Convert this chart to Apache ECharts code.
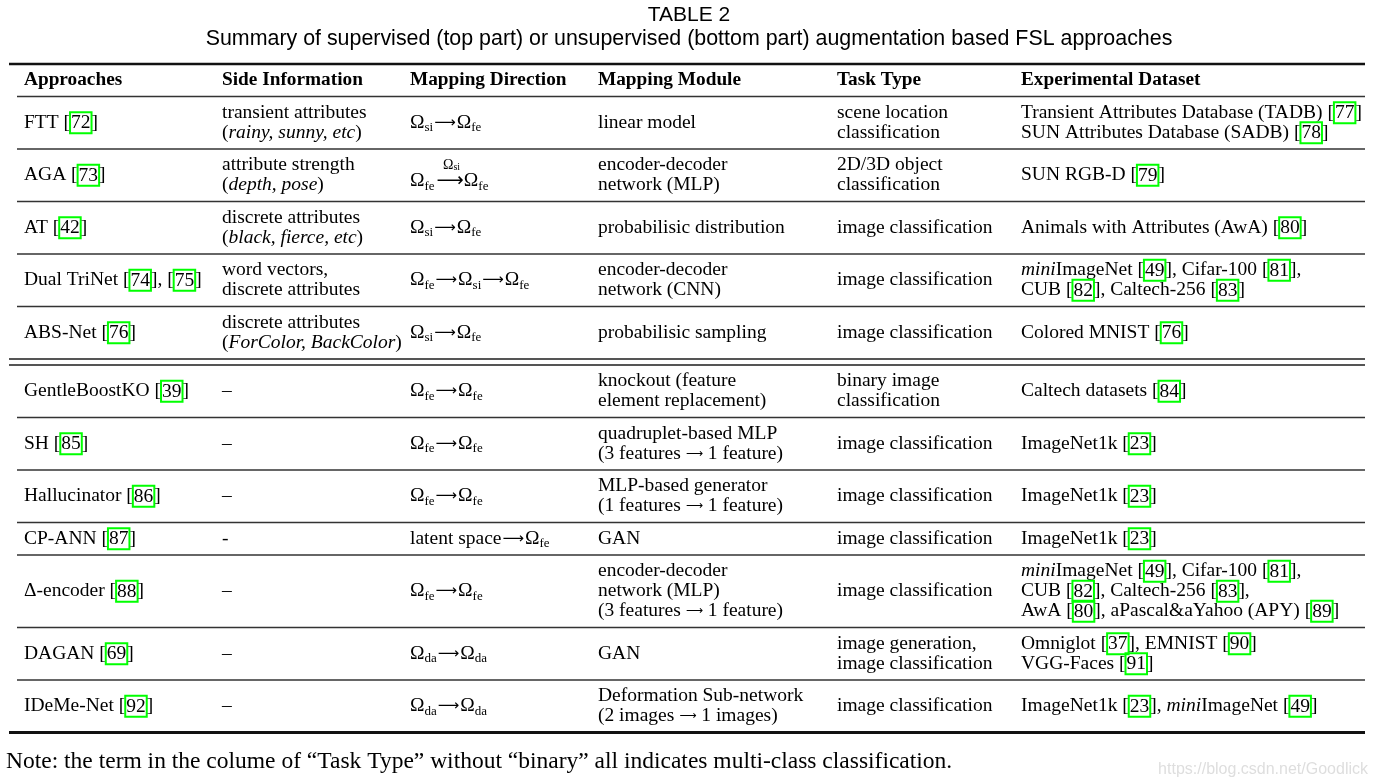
<!DOCTYPE html>
<html>
<head>
<meta charset="utf-8">
<title>TABLE 2</title>
<script src="https://cdn.jsdelivr.net/npm/echarts@6/dist/echarts.min.js"></script>
<style>
  html, body { margin: 0; padding: 0; background: #fff; }
  #chart { width: 1378px; height: 783px; }
</style>
</head>
<body>
<div id="chart"></div>
<script>
// ---- table content ----
// '\n' splits lines inside a cell; {c|..} = green citation box, {i|..} = italic,
// {s|..} = subscript, {a|..} / {b|..} = math arrows
const headers = ['Approaches', 'Side Information', 'Mapping Direction', 'Mapping Module', 'Task Type', 'Experimental Dataset'];

const approaches = [
  'FTT [{c|72}]',
  'AGA [{c|73}]',
  'AT [{c|42}]',
  'Dual TriNet [{c|74}], [{c|75}]',
  'ABS-Net [{c|76}]',
  'GentleBoostKO [{c|39}]',
  'SH [{c|85}]',
  'Hallucinator [{c|86}]',
  'CP-ANN [{c|87}]',
  'Δ-encoder [{c|88}]',
  'DAGAN [{c|69}]',
  'IDeMe-Net [{c|92}]'
];

const sideInfo = [
  'transient attributes\n({i|rainy, sunny, etc})',
  'attribute strength\n({i|depth, pose})',
  'discrete attributes\n({i|black, fierce, etc})',
  'word vectors,\ndiscrete attributes',
  'discrete attributes\n({i|ForColor, BackColor})',
  '–', '–', '–', '-', '–', '–', '–'
];

const mappingDirection = [
  'Ω{s|si}{a|⟶}Ω{s|fe}',
  '{sp| }{o|Ω}{os|si}\nΩ{s|fe}{al|⟶}Ω{s|fe}',
  'Ω{s|si}{a|⟶}Ω{s|fe}',
  'Ω{s|fe}{a|⟶}Ω{s|si}{a|⟶}Ω{s|fe}',
  'Ω{s|si}{a|⟶}Ω{s|fe}',
  'Ω{s|fe}{a|⟶}Ω{s|fe}',
  'Ω{s|fe}{a|⟶}Ω{s|fe}',
  'Ω{s|fe}{a|⟶}Ω{s|fe}',
  'latent space{a|⟶}Ω{s|fe}',
  'Ω{s|fe}{a|⟶}Ω{s|fe}',
  'Ω{s|da}{a|⟶}Ω{s|da}',
  'Ω{s|da}{a|⟶}Ω{s|da}'
];

const mappingModule = [
  'linear model',
  'encoder-decoder\nnetwork (MLP)',
  'probabilisic distribution',
  'encoder-decoder\nnetwork (CNN)',
  'probabilisic sampling',
  'knockout (feature\nelement replacement)',
  'quadruplet-based MLP\n(3 features {b|⟶} 1 feature)',
  'MLP-based generator\n(1 features {b|⟶} 1 feature)',
  'GAN',
  'encoder-decoder\nnetwork (MLP)\n(3 features {b|⟶} 1 feature)',
  'GAN',
  'Deformation Sub-network\n(2 images {b|⟶} 1 images)'
];

const taskType = [
  'scene location\nclassification',
  '2D/3D object\nclassification',
  'image classification',
  'image classification',
  'image classification',
  'binary image\nclassification',
  'image classification',
  'image classification',
  'image classification',
  'image classification',
  'image generation,\nimage classification',
  'image classification'
];

const datasets = [
  'Transient Attributes Database (TADB) [{c|77}]\nSUN Attributes Database (SADB) [{c|78}]',
  'SUN RGB-D [{c|79}]',
  'Animals with Attributes (AwA) [{c|80}]',
  '{i|mini}ImageNet [{c|49}], Cifar-100 [{c|81}],\nCUB [{c|82}], Caltech-256 [{c|83}]',
  'Colored MNIST [{c|76}]',
  'Caltech datasets [{c|84}]',
  'ImageNet1k [{c|23}]',
  'ImageNet1k [{c|23}]',
  'ImageNet1k [{c|23}]',
  '{i|mini}ImageNet [{c|49}], Cifar-100 [{c|81}],\nCUB [{c|82}], Caltech-256 [{c|83}],\nAwA [{c|80}], aPascal&aYahoo (APY) [{c|89}]',
  'Omniglot [{c|37}], EMNIST [{c|90}]\nVGG-Faces [{c|91}]',
  'ImageNet1k [{c|23}], {i|mini}ImageNet [{c|49}]'
];

const supervisedCount = 5;   // rows in the top (supervised) part

const titleText = 'TABLE 2';
const subtitleText = 'Summary of supervised (top part) or unsupervised (bottom part) augmentation based FSL approaches';
const noteText = 'Note: the term in the colume of \u201cTask Type\u201d without \u201cbinary\u201d all indicates multi-class classification.';
const watermark = 'https://blog.csdn.net/Goodlick';

// ---- layout ----
const SERIF = '"Liberation Serif", "DejaVu Serif", serif';
const SANS = '"Liberation Sans", Arial, sans-serif';
const ARROW = '"DejaVu Sans", sans-serif';
const FS = 19.5;
const colX = [24, 222, 410, 598, 837, 1021];
const tableTop = 64;
const lineH = 20;
const rowPad = 12.5;
const partGap = 6;
const ruleLeft = 17, outerLeft = 9, ruleRight = 1365;

const columns = [approaches, sideInfo, mappingDirection, mappingModule, taskType, datasets];

const base = { fontFamily: SERIF, fontSize: FS, fill: '#000', lineHeight: lineH };
const rich = {
  c: Object.assign({}, base, { borderColor: '#00ff00', borderWidth: 2, padding: [1, 1, 0, 1] }),
  i: Object.assign({}, base, { fontStyle: 'italic' }),
  s: Object.assign({}, base, { fontSize: 13, padding: [10, 0, 0, 0] }),
  a: Object.assign({}, base, { fontFamily: ARROW, fontSize: 15, padding: [0, 1, 0, 1] }),
  b: Object.assign({}, base, { fontFamily: ARROW, fontSize: 12 }),
  al: Object.assign({}, base, { fontFamily: ARROW, fontSize: 19, padding: [0, 0, 0, 2] }),
  sp: Object.assign({}, base, { width: 33, lineHeight: 12 }),
  o: Object.assign({}, base, { fontSize: 14, lineHeight: 12 }),
  os: Object.assign({}, base, { fontSize: 10, lineHeight: 12, padding: [5, 0, 0, 0] })
};

// build cells and rules
const cells = [];
const rules = [];
let y = tableTop;
rules.push([outerLeft, ruleRight, y, 2.6, '#111']);
headers.forEach((h, c) => cells.push({ x: colX[c], y: y + (lineH + rowPad) / 2, text: h, bold: true }));
y += lineH + rowPad;
rules.push([ruleLeft, ruleRight, y, 1.4, '#333']);

approaches.forEach((_, r) => {
  const lines = Math.max.apply(null, columns.map(col => col[r].split('\n').length));
  const h = lines * lineH + rowPad;
  columns.forEach((col, c) => cells.push({ x: colX[c], y: y + h / 2, text: col[r], bold: false }));
  y += h;
  if (r === supervisedCount - 1) {
    rules.push([outerLeft, ruleRight, y, 1.8, '#555']);
    y += partGap;
    rules.push([outerLeft, ruleRight, y, 1.8, '#555']);
  } else if (r === approaches.length - 1) {
    rules.push([outerLeft, ruleRight, y, 3, '#111']);
  } else {
    rules.push([ruleLeft, ruleRight, y, 1.4, '#333']);
  }
});

const chart = echarts.init(document.getElementById('chart'));

chart.setOption({
  backgroundColor: '#fff',
  animation: false,
  title: [
    {
      text: titleText,
      subtext: subtitleText,
      left: 'center',
      top: -2,
      itemGap: 0,
      textStyle: { fontFamily: SANS, fontSize: 21, fontWeight: 'normal', color: '#000', lineHeight: 24 },
      subtextStyle: { fontFamily: SANS, fontSize: 21.4, color: '#000', lineHeight: 24 }
    },
    {
      text: noteText,
      left: 1,
      top: 744,
      textStyle: { fontFamily: SERIF, fontSize: 23.5, fontWeight: 'normal', color: '#000', lineHeight: 26 }
    },
    {
      text: watermark,
      right: 5,
      top: 753,
      textStyle: { fontFamily: SANS, fontSize: 16, fontWeight: 'normal', color: '#dedede', lineHeight: 24 }
    }
  ],
  grid: { left: 0, right: 0, top: 0, bottom: 0 },
  xAxis: { type: 'value', min: 0, max: 1378, show: false },
  yAxis: { type: 'value', min: 0, max: 783, inverse: true, show: false },
  series: [
    {
      type: 'custom',
      name: 'rules',
      clip: false,
      data: rules,
      renderItem(params, api) {
        const p0 = api.coord([api.value(0), api.value(2)]);
        const p1 = api.coord([api.value(1), api.value(2)]);
        const d = rules[params.dataIndex];
        return {
          type: 'line',
          shape: { x1: p0[0], y1: p0[1], x2: p1[0], y2: p1[1] },
          style: { stroke: d[4], lineWidth: d[3] }
        };
      }
    },
    {
      type: 'custom',
      name: 'cells',
      clip: false,
      data: cells.map(d => [d.x, d.y]),
      renderItem(params, api) {
        const d = cells[params.dataIndex];
        const pt = api.coord([api.value(0), api.value(1)]);
        return {
          type: 'text',
          x: pt[0],
          y: pt[1],
          style: {
            text: d.text,
            fontFamily: SERIF,
            fontSize: d.bold ? 19.3 : FS,
            fontWeight: d.bold ? 'bold' : 'normal',
            fill: '#000',
            lineHeight: lineH,
            align: 'left',
            verticalAlign: 'middle',
            textAlign: 'left',
            textVerticalAlign: 'middle',
            rich: rich
          }
        };
      }
    }
  ]
});
</script>
</body>
</html>
